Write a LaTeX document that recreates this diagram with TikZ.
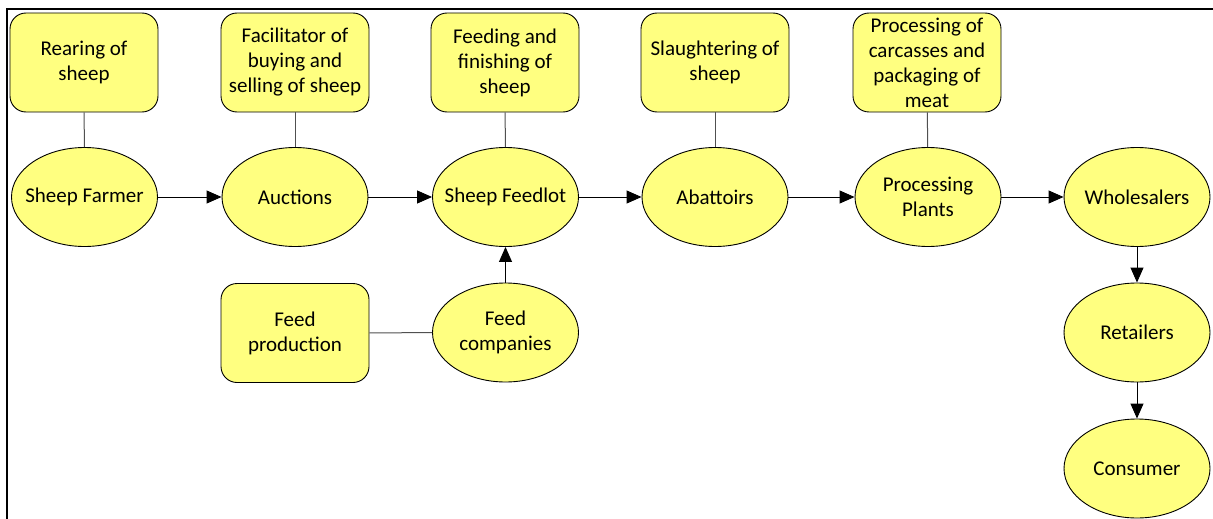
\documentclass[tikz,border=0pt]{standalone}
\usepackage{fontspec}
\setmainfont{Carlito}
\usetikzlibrary{shapes.geometric,arrows.meta}
\definecolor{fillyellow}{HTML}{FFFF80}
\definecolor{linkgray}{HTML}{505050}
\tikzset{
  labelfont/.style={font=\fontsize{21}{25}\selectfont,align=center},
  actor/.style={ellipse,draw=black,line width=0.9pt,fill=fillyellow,
    minimum width=146pt,minimum height=99pt,inner sep=0pt,
    label={[labelfont]center:#1}},
  rolebox/.style={rectangle,rounded corners=16pt,draw=black,line width=0.9pt,fill=fillyellow,
    minimum width=148pt,minimum height=99pt,inner sep=0pt,labelfont},
  link/.style={draw=linkgray,line width=1pt},
  flow/.style={draw=black,line width=0.9pt,-{Triangle[length=15pt,width=13pt]}},
}
\begin{document}
\begin{tikzpicture}[x=1pt,y=-1pt]
\useasboundingbox (0,0) rectangle (1213,519);
% frame edges
\draw[line width=2pt] (7,519) -- (7,9) -- (1213,9);

% activity boxes
\node[rolebox] (b1) at (84,62.5) {Rearing of\\sheep};
\node[rolebox] (b2) at (295,62.5) {Facilitator of\\buying and\\selling of sheep};
\node[rolebox] (b3) at (505,62.5) {Feeding and\\finishing of\\sheep};
\node[rolebox] (b4) at (715,62.5) {Slaughtering of\\sheep};
\node[rolebox] (b5) at (927,62.5) {Processing of\\carcasses and\\packaging of\\meat};
\node[rolebox] (b6) at (295,333) {Feed\\production};

% chain actors
\node[actor={Sheep Farmer}] (a1) at (84.5,197) {};
\node[actor={Auctions}] (a2) at (295,197) {};
\node[actor={Sheep Feedlot}] (a3) at (505.5,197) {};
\node[actor={Abattoirs}] (a4) at (715,197) {};
\node[actor={Processing\\Plants}] (a5) at (928,197) {};
\node[actor={Wholesalers}] (a6) at (1137,197) {};
\node[actor={Retailers}] (a7) at (1137,332.5) {};
\node[actor={Consumer}] (a8) at (1137,468.5) {};
\node[actor={Feed\\companies}] (fc) at (505.5,332.5) {};

% activity links
\draw[link] (b1) -- (a1);
\draw[link] (b2) -- (a2);
\draw[link] (b3) -- (a3);
\draw[link] (b4) -- (a4);
\draw[link] (b5) -- (a5);
\draw[link] (b6) -- (fc);

% product flow
\draw[flow] (a1) -- (a2);
\draw[flow] (a2) -- (a3);
\draw[flow] (a3) -- (a4);
\draw[flow] (a4) -- (a5);
\draw[flow] (a5) -- (a6);
\draw[flow] (a6) -- (a7);
\draw[flow] (a7) -- (a8);
\draw[flow] (fc) -- (a3);
\end{tikzpicture}
\end{document}
